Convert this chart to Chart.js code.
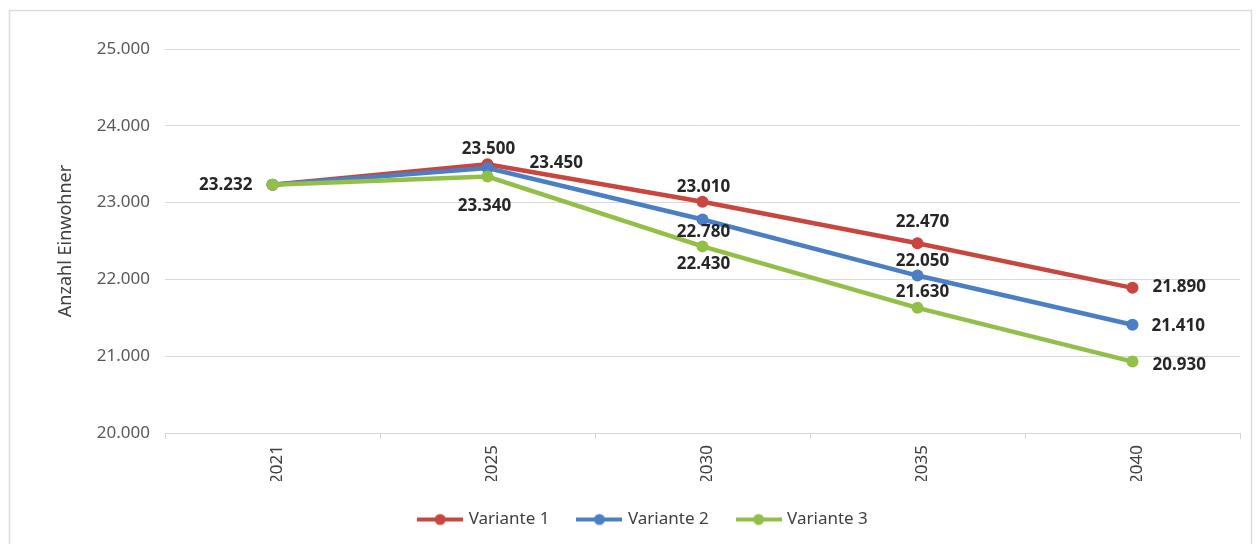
<!DOCTYPE html>
<html lang="de">
<head>
<meta charset="utf-8">
<title>Bevölkerungsprognose</title>
<script src="https://cdn.jsdelivr.net/npm/chart.js@4.4.1/dist/chart.umd.min.js"></script>
<style>
  html, body { margin: 0; padding: 0; background: #ffffff; }
  #wrap { position: relative; width: 1257px; height: 544px; }
</style>
</head>
<body>
<div id="wrap"><canvas id="prognose_chart" width="1257" height="544"></canvas></div>
<script>
// Jahre und Einwohnerzahlen je Variante
const jahre = ['2021', '2025', '2030', '2035', '2040'];
const variante1 = [23232, 23500, 23010, 22470, 21890];
const variante2 = [23232, 23450, 22780, 22050, 21410];
const variante3 = [23232, 23340, 22430, 21630, 20930];
const serienNamen = ['Variante 1', 'Variante 2', 'Variante 3'];

const yMin = 20000;
const yMax = 25000;
const yStep = 1000;

const farben = ['#c9463f', '#4a7fc6', '#92bf47'];

// Wo die Wertbeschriftung neben dem Punkt steht (null = keine)
const beschriftung = [
  [{ align: 'right', dx: -20, dy: 0 }, { align: 'center', dx: 1, dy: -15 }, { align: 'center', dx: 1, dy: -15 }, { align: 'center', dx: 5, dy: -21 }, { align: 'left', dx: 20, dy: -1 }],
  [null, { align: 'left', dx: 42, dy: -5 }, { align: 'center', dx: 1, dy: 13 }, { align: 'center', dx: 5, dy: -14 }, { align: 'left', dx: 19, dy: 1 }],
  [null, { align: 'center', dx: -3, dy: 30 }, { align: 'center', dx: 1, dy: 18 }, { align: 'center', dx: 5, dy: -16 }, { align: 'left', dx: 20, dy: 4 }]
];

function formatZahl(v) {
  return String(v).replace(/\B(?=(\d{3})+(?!\d))/g, '.');
}

// Legendensymbol: Linie mit Punkt
function legendSymbol(color) {
  const c = document.createElement('canvas');
  c.width = 46;
  c.height = 14;
  const ctx = c.getContext('2d');
  ctx.strokeStyle = color;
  ctx.lineWidth = 4;
  ctx.beginPath();
  ctx.moveTo(0, 7);
  ctx.lineTo(46, 7);
  ctx.stroke();
  ctx.fillStyle = color;
  ctx.beginPath();
  ctx.arc(23, 7, 5.5, 0, Math.PI * 2);
  ctx.fill();
  return c;
}

const rahmenPlugin = {
  id: 'rahmen',
  beforeDraw(chart) {
    const ctx = chart.ctx;
    ctx.save();
    ctx.fillStyle = '#ffffff';
    ctx.fillRect(0, 0, chart.width, chart.height);
    ctx.strokeStyle = '#dcdcdc';
    ctx.lineWidth = 1.5;
    ctx.strokeRect(9.5, 10.5, 1242, 560);
    ctx.restore();
  }
};

const wertePlugin = {
  id: 'werte',
  afterDatasetsDraw(chart) {
    const ctx = chart.ctx;
    ctx.save();
    ctx.font = 'bold 17px "Noto Sans", sans-serif';
    ctx.fillStyle = '#262626';
    ctx.textBaseline = 'middle';
    chart.data.datasets.forEach((ds, i) => {
      const meta = chart.getDatasetMeta(i);
      meta.data.forEach((pt, j) => {
        const pos = beschriftung[i][j];
        if (!pos) return;
        ctx.textAlign = pos.align;
        ctx.fillText(formatZahl(ds.data[j]), pt.x + pos.dx, pt.y + pos.dy);
      });
    });
    ctx.restore();
  }
};

const serien = [variante1, variante2, variante3];

new Chart(document.getElementById('prognose_chart'), {
  type: 'line',
  data: {
    labels: jahre,
    datasets: serien.map((werte, i) => ({
      label: serienNamen[i],
      data: werte,
      borderColor: farben[i],
      backgroundColor: farben[i],
      pointBackgroundColor: farben[i],
      pointBorderWidth: 0,
      pointRadius: 6,
      pointStyle: 'circle',
      borderWidth: 4.5,
      tension: 0,
      order: 2 - i,
      legendSymbol: legendSymbol(farben[i])
    }))
  },
  options: {
    responsive: false,
    animation: false,
    events: [],
    layout: {
      padding: { left: 48, right: 17, top: 49, bottom: 6 }
    },
    plugins: {
      tooltip: { enabled: false },
      legend: {
        position: 'bottom',
        labels: {
          usePointStyle: true,
          pointStyleWidth: 40,
          padding: 30,
          color: '#404040',
          font: { family: '"Noto Sans", sans-serif', size: 17 },
          sort: (a, b) => a.datasetIndex - b.datasetIndex,
          generateLabels(chart) {
            return chart.data.datasets.map((ds, i) => ({
              text: ds.label,
              datasetIndex: i,
              pointStyle: ds.legendSymbol,
              fillStyle: ds.borderColor,
              strokeStyle: ds.borderColor,
              lineWidth: 0,
              fontColor: '#404040',
              hidden: false
            }));
          }
        }
      }
    },
    scales: {
      x: {
        offset: true,
        grid: {
          offset: true,
          drawOnChartArea: false,
          drawTicks: true,
          tickLength: 6,
          color: '#d6d6d6'
        },
        border: { color: '#d6d6d6', width: 1 },
        ticks: {
          autoSkip: false,
          minRotation: 90,
          maxRotation: 90,
          padding: 6,
          labelOffset: 5,
          color: '#404040',
          font: { family: '"Noto Sans", sans-serif', size: 17 }
        },
        afterFit(scale) { scale.height = 48; }
      },
      y: {
        min: yMin,
        max: yMax,
        grid: {
          color: '#d9d9d9',
          drawTicks: false
        },
        border: { display: false },
        ticks: {
          stepSize: yStep,
          padding: 15,
          color: '#595959',
          font: { family: '"Noto Sans", sans-serif', size: 17 },
          callback: (v) => formatZahl(v)
        },
        title: {
          display: true,
          text: 'Anzahl Einwohner',
          color: '#404040',
          padding: { top: 7, bottom: 0 },
          font: { family: '"Noto Sans", sans-serif', size: 18 }
        },
        afterFit(scale) { scale.width = 117; }
      }
    }
  },
  plugins: [rahmenPlugin, wertePlugin]
});
</script>
</body>
</html>
